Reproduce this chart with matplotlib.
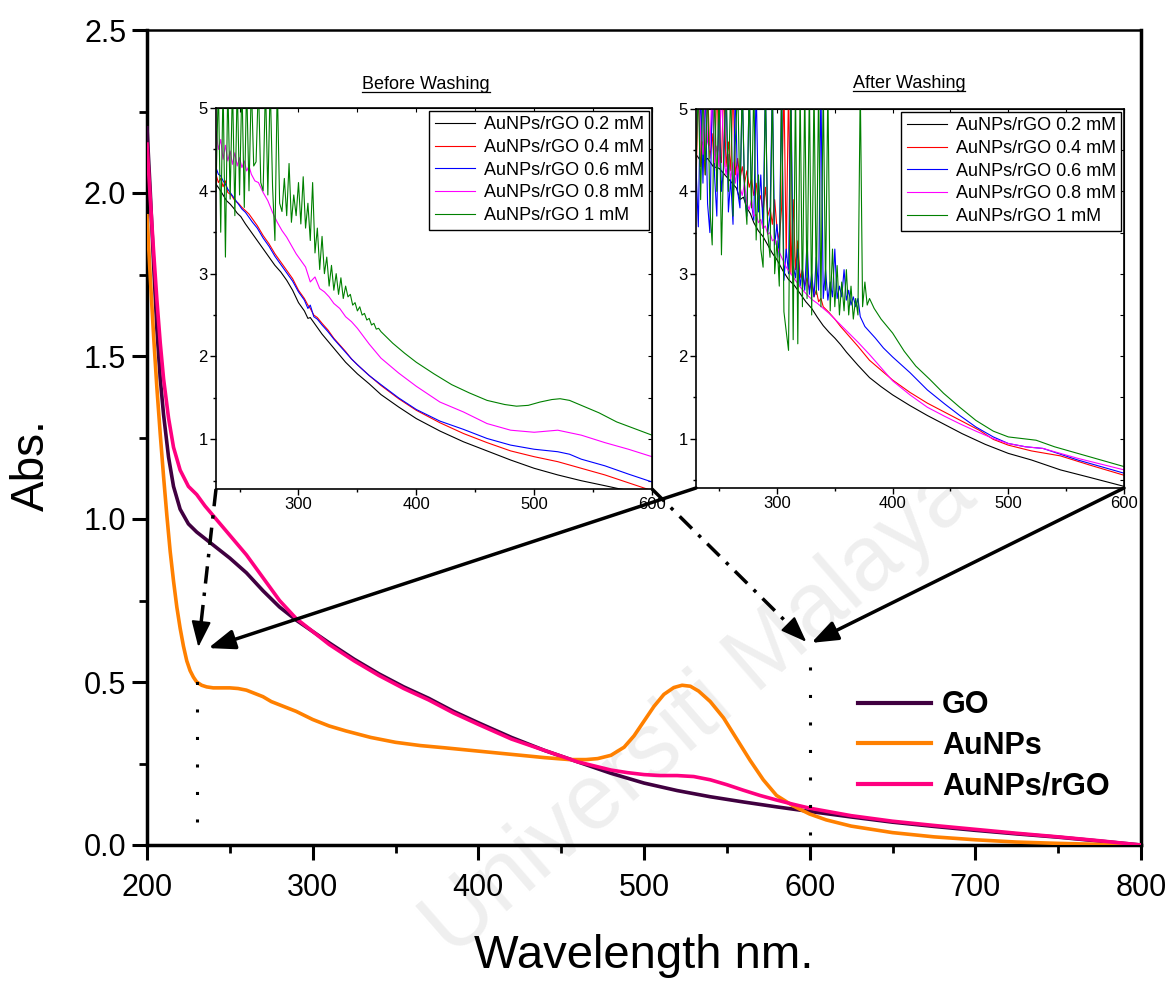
import numpy as np
import matplotlib
matplotlib.use('Agg')
import matplotlib.pyplot as plt
from matplotlib.lines import Line2D
from matplotlib.patches import FancyArrowPatch
from matplotlib.transforms import IdentityTransform
from matplotlib.ticker import MultipleLocator

plt.rcParams['font.family'] = ['Liberation Sans', 'DejaVu Sans']

# ---------------- main spectra ----------------
go_wl = [200, 202, 204, 206, 208, 210, 213, 216, 220, 225, 230, 235, 240, 250, 260, 270, 280, 290,
         300, 310, 325, 340, 355, 370, 385, 400, 420, 440, 460, 480, 500, 520, 540, 560, 580, 600,
         625, 650, 675, 700, 725, 750, 775, 800]
go_abs = [2.20, 2.00, 1.78, 1.58, 1.43, 1.32, 1.19, 1.10, 1.03, 0.985, 0.96, 0.94, 0.92, 0.88, 0.835,
          0.78, 0.73, 0.69, 0.655, 0.62, 0.57, 0.525, 0.485, 0.45, 0.41, 0.375, 0.33, 0.29, 0.255,
          0.22, 0.19, 0.167, 0.148, 0.132, 0.117, 0.103, 0.086, 0.07, 0.057, 0.045, 0.034, 0.024,
          0.012, 0.0]

au_wl = [200, 202, 204, 206, 208, 210, 212, 214, 216, 218, 220, 222, 224, 226, 228, 230, 233, 236,
         240, 245, 250, 255, 260, 265, 270, 275, 280, 290, 300, 310, 320, 335, 350, 365, 380, 400,
         420, 440, 455, 465, 472, 480, 488, 494, 500, 506, 512, 518, 523, 528, 533, 540, 548, 556,
         564, 572, 580, 590, 600, 610, 625, 650, 675, 700, 725, 750, 775, 800]
au_abs = [1.93, 1.74, 1.56, 1.40, 1.26, 1.13, 1.01, 0.90, 0.81, 0.73, 0.665, 0.61, 0.565, 0.535,
          0.515, 0.50, 0.49, 0.485, 0.482, 0.482, 0.482, 0.48, 0.475, 0.465, 0.455, 0.44, 0.43,
          0.41, 0.385, 0.365, 0.35, 0.33, 0.315, 0.305, 0.298, 0.288, 0.278, 0.268, 0.262, 0.262,
          0.265, 0.275, 0.30, 0.335, 0.38, 0.425, 0.462, 0.483, 0.49, 0.487, 0.472, 0.44, 0.39,
          0.325, 0.26, 0.20, 0.152, 0.12, 0.095, 0.077, 0.058, 0.038, 0.025, 0.016, 0.009, 0.005,
          0.002, 0.0]

aurgo_wl = [200, 202, 204, 206, 208, 210, 213, 216, 220, 225, 230, 235, 240, 250, 260, 270, 280,
            290, 300, 310, 325, 340, 355, 370, 385, 400, 420, 440, 460, 480, 490, 500, 510, 520,
            530, 540, 550, 560, 570, 580, 590, 600, 625, 650, 675, 700, 725, 750, 775, 800]
aurgo_abs = [2.15, 1.98, 1.82, 1.67, 1.54, 1.43, 1.31, 1.22, 1.15, 1.10, 1.075, 1.04, 1.01, 0.95,
             0.89, 0.82, 0.75, 0.695, 0.655, 0.615, 0.565, 0.52, 0.48, 0.445, 0.405, 0.37, 0.325,
             0.29, 0.255, 0.23, 0.222, 0.216, 0.213, 0.213, 0.21, 0.20, 0.185, 0.168, 0.152, 0.138,
             0.125, 0.113, 0.09, 0.073, 0.06, 0.048, 0.036, 0.025, 0.013, 0.0]

main_labels = ['GO', 'AuNPs', 'AuNPs/rGO']
main_colors = ['#400040', '#FF8000', '#FF0080']

# ---------------- inset labels ----------------
inset_labels = ['AuNPs/rGO 0.2 mM', 'AuNPs/rGO 0.4 mM', 'AuNPs/rGO 0.6 mM',
                'AuNPs/rGO 0.8 mM', 'AuNPs/rGO 1 mM']
inset_colors = ['black', 'red', 'blue', '#FF00FF', 'green']

# ---------------- Before washing ----------------
bw02_wl = [230, 233, 236, 239, 242, 245, 248, 251, 255, 260, 265, 270, 275, 280, 285, 290, 295, 300,
           305, 308, 310, 315, 320, 330, 340, 350, 360, 370, 385, 400, 420, 440, 460, 480, 500, 520,
           540, 560, 573, 580, 600]
bw02_v = [4.08, 4.02, 3.95, 3.88, 3.84, 3.79, 3.73, 3.69, 3.60, 3.50, 3.40, 3.30, 3.20, 3.10, 3.02,
          2.92, 2.80, 2.65, 2.55, 2.46, 2.47, 2.37, 2.27, 2.10, 1.93, 1.79, 1.67, 1.54, 1.39, 1.25,
          1.10, 0.97, 0.86, 0.75, 0.65, 0.57, 0.50, 0.44, 0.40, 0.385, 0.34]

bw04_wl = [230, 232, 234, 236, 238, 240, 243, 246, 249, 252, 255, 258, 261, 265, 270, 275, 280, 285,
           290, 295, 300, 305, 308, 310, 313, 316, 320, 325, 330, 335, 340, 345, 350, 360, 370, 385,
           400, 420, 440, 460, 480, 500, 520, 540, 560, 580, 600]
bw04_v = [4.20, 4.10, 4.15, 4.05, 4.12, 3.98, 3.95, 3.88, 3.85, 3.80, 3.76, 3.72, 3.66, 3.58, 3.46,
          3.36, 3.24, 3.14, 3.04, 2.94, 2.80, 2.70, 2.62, 2.58, 2.50, 2.47, 2.40, 2.32, 2.22, 2.14,
          2.06, 1.97, 1.90, 1.77, 1.65, 1.49, 1.35, 1.20, 1.07, 0.96, 0.86, 0.79, 0.73, 0.65, 0.57,
          0.475, 0.38]

bw06_wl = [230, 232, 234, 236, 238, 240, 243, 246, 249, 252, 255, 258, 261, 265, 270, 275, 280, 285,
           290, 295, 300, 305, 308, 310, 313, 316, 320, 325, 330, 335, 340, 345, 350, 360, 370, 385,
           400, 420, 440, 460, 480, 500, 520, 530, 540, 560, 580, 600]
bw06_v = [4.28, 4.20, 4.18, 4.12, 4.08, 4.02, 3.96, 3.90, 3.84, 3.78, 3.74, 3.68, 3.62, 3.55, 3.43,
          3.33, 3.21, 3.11, 3.01, 2.91, 2.78, 2.68, 2.58, 2.62, 2.48, 2.45, 2.38, 2.30, 2.21, 2.13,
          2.05, 1.97, 1.90, 1.77, 1.66, 1.50, 1.36, 1.22, 1.12, 1.01, 0.93, 0.88, 0.85, 0.82, 0.76,
          0.68, 0.58, 0.485]

bw08_wl = [230, 232, 234, 236, 238, 240, 242, 244, 246, 248, 250, 252, 254, 256, 258, 260, 263, 266,
           270, 274, 278, 282, 286, 290, 294, 298, 302, 306, 310, 314, 318, 322, 326, 330, 335, 340,
           345, 350, 360, 370, 385, 400, 420, 440, 460, 480, 500, 520, 540, 560, 580, 600]
bw08_v = [4.72, 4.50, 4.62, 4.38, 4.55, 4.36, 4.48, 4.32, 4.46, 4.30, 4.40, 4.28, 4.36, 4.24, 4.30,
          4.20, 4.12, 4.10, 3.98, 3.88, 3.74, 3.62, 3.52, 3.44, 3.34, 3.24, 3.16, 3.08, 2.90, 2.96,
          2.82, 2.78, 2.72, 2.64, 2.58, 2.48, 2.42, 2.34, 2.15, 1.98, 1.80, 1.64, 1.45, 1.33, 1.19,
          1.11, 1.085, 1.11, 1.05, 0.96, 0.88, 0.79]

bw1_wl = [230, 232, 234, 236, 238, 240, 242, 244, 246, 248, 250, 252, 254, 256, 258, 260, 262, 264,
          266, 268, 270, 272, 274, 276, 278, 280, 282, 284, 286, 288, 290, 292, 294, 296, 298, 300,
          302, 304, 306, 308, 310, 312, 314, 316, 318, 320, 322, 324, 326, 328, 330, 332, 334, 336,
          338, 340, 342, 344, 346, 348, 350, 352, 354, 356, 358, 360, 362, 364, 366, 368, 370,
          380, 390, 400, 415, 430, 445, 460, 475, 485, 495, 505, 515, 522, 530, 540, 555, 570, 585,
          600]
bw1_v = [4.00, 5.30, 3.50, 5.30, 3.20, 5.30, 3.90, 5.30, 3.70, 5.30, 3.95, 5.30, 3.80, 5.30, 4.00,
         5.30, 4.30, 4.35, 5.30, 4.10, 4.00, 5.30, 3.95, 5.30, 4.05, 3.40, 5.30, 3.85, 3.75, 4.15,
         3.70, 4.33, 3.62, 3.95, 3.70, 4.10, 3.60, 4.17, 3.55, 3.85, 3.40, 4.10, 3.25, 3.55, 3.05,
         3.45, 3.00, 3.20, 2.85, 3.10, 2.80, 3.00, 2.75, 2.95, 2.70, 2.85, 2.72, 2.75, 2.62, 2.65,
         2.55, 2.60, 2.50, 2.52, 2.44, 2.46, 2.38, 2.40, 2.33, 2.34, 2.30,
         2.16, 2.04, 1.93, 1.79, 1.66, 1.56, 1.47, 1.42, 1.40, 1.41, 1.45, 1.48, 1.49, 1.47, 1.41,
         1.32, 1.21, 1.13, 1.05]

# ---------------- After washing ----------------
aw02_wl = [230, 235, 240, 245, 250, 255, 260, 265, 268, 271, 274, 277, 280, 284, 288, 292, 296, 300,
           305, 310, 315, 320, 325, 330, 335, 340, 345, 350, 355, 360, 370, 380, 390, 400, 415, 430,
           445, 460, 480, 500, 520, 545, 570, 600]
aw02_v = [4.45, 4.35, 4.40, 4.30, 4.28, 4.20, 4.12, 4.04, 3.90, 3.93, 3.80, 3.73, 3.62, 3.52, 3.45,
          3.35, 3.25, 3.17, 3.04, 2.93, 2.86, 2.76, 2.66, 2.58, 2.47, 2.37, 2.29, 2.22, 2.14, 2.05,
          1.89, 1.74, 1.63, 1.53, 1.40, 1.28, 1.17, 1.06, 0.93, 0.82, 0.74, 0.62, 0.53, 0.42]

aw04_wl = [230, 232, 234, 236, 238, 240, 242, 244, 246, 248, 250, 252, 254, 256, 258, 260, 262, 264,
           266, 268, 270, 272, 274, 276, 278, 280, 282, 284, 286, 288, 290, 292, 294, 296, 298, 300,
           302, 304, 306, 308, 310, 312, 314, 316, 318, 320, 322, 324, 326, 328, 330, 332, 334, 336,
           338, 340, 345, 350, 355, 360, 365, 370, 380, 390, 400, 415, 430, 445, 460, 475, 487, 500,
           520, 545, 570, 600]
aw04_v = [4.05, 5.30, 4.30, 4.60, 4.20, 5.30, 4.40, 4.70, 4.25, 5.30, 4.50, 4.35, 5.30, 4.30, 4.60,
          4.25, 5.30, 4.20, 4.40, 4.15, 4.30, 4.10, 4.25, 4.05, 4.15, 3.95, 4.10, 3.85, 3.95, 3.75,
          4.05, 3.70, 3.80, 3.60, 3.90, 3.55, 3.40, 3.80, 5.30, 3.20, 5.30, 3.00, 3.90, 3.05, 3.40,
          2.95, 3.05, 2.85, 2.95, 2.80, 2.90, 2.72, 2.80, 2.66, 2.70, 2.60, 2.53, 2.45, 2.36, 2.28,
          2.20, 2.12, 1.95, 1.83, 1.71, 1.56, 1.43, 1.32, 1.21, 1.10, 0.99, 0.92, 0.85, 0.79, 0.68,
          0.555]

aw06_wl = [230, 232, 234, 236, 238, 240, 242, 244, 246, 248, 250, 252, 254, 256, 258, 260, 262, 264,
           266, 268, 270, 272, 274, 276, 278, 280, 282, 284, 286, 288, 290, 292, 294, 296, 298, 300,
           302, 304, 306, 308, 310, 312, 314, 316, 318, 320, 322, 324, 326, 328, 330, 332, 334, 336,
           338, 340, 342, 344, 346, 348, 350, 352, 354, 356, 358, 360, 362, 364, 366, 368, 370, 372,
           376, 385, 392, 400, 415, 430, 445, 458, 472, 487, 500, 515, 530, 545, 560, 580, 600]
aw06_v = [4.30, 3.57, 5.30, 4.10, 5.30, 3.85, 3.50, 5.30, 4.20, 3.70, 5.30, 4.00, 4.30, 5.30, 3.75,
          4.15, 3.60, 5.30, 4.00, 3.80, 5.30, 3.95, 3.70, 5.30, 3.85, 3.65, 5.30, 3.75, 4.20, 3.55,
          5.30, 3.50, 3.70, 5.30, 3.35, 3.60, 3.20, 5.30, 2.92, 3.30, 3.00, 5.30, 3.10, 2.95, 3.30,
          2.85, 3.05, 2.80, 3.40, 2.75, 3.00, 2.72, 3.20, 2.80, 5.30, 2.70, 3.05, 2.68, 2.90, 2.72,
          3.30, 2.70, 2.85, 2.72, 3.05, 2.68, 2.80, 2.62, 2.72, 2.60, 2.70, 2.48,
          2.36, 2.22, 2.10, 1.99, 1.80, 1.59, 1.42, 1.28, 1.14, 1.02, 0.94, 0.90, 0.88, 0.81, 0.74,
          0.66, 0.58]

aw08_wl = [230, 232, 234, 236, 238, 240, 242, 244, 246, 248, 250, 252, 254, 256, 258, 260, 262, 264,
           266, 268, 270, 272, 274, 276, 278, 280, 282, 284, 286, 288, 290, 292, 294, 296, 298, 300,
           304, 308, 312, 316, 320, 325, 330, 335, 340, 345, 350, 355, 360, 365, 370, 380, 390, 400,
           415, 430, 445, 458, 472, 487, 500, 515, 530, 545, 560, 580, 600]
aw08_v = [4.50, 5.30, 4.70, 4.45, 5.30, 4.60, 4.50, 5.30, 4.35, 4.55, 4.30, 5.30, 4.40, 4.20, 4.45,
          4.15, 4.35, 4.10, 4.30, 4.05, 3.95, 4.10, 3.85, 3.78, 3.90, 3.70, 3.72, 3.62, 3.66, 3.55,
          3.58, 3.48, 3.50, 3.40, 3.42, 3.33, 3.20, 3.08, 3.00, 2.92, 2.84, 2.76, 2.69, 2.64, 2.58,
          2.52, 2.45, 2.38, 2.31, 2.24, 2.17, 2.02, 1.86, 1.70, 1.53, 1.38, 1.27, 1.18, 1.09, 1.00,
          0.94, 0.90, 0.88, 0.82, 0.76, 0.69, 0.62]

aw1_wl = [230, 232, 234, 236, 238, 240, 242, 244, 246, 248, 250, 252, 254, 256, 258, 260, 262, 264,
          266, 268, 270, 272, 274, 276, 278, 280, 282, 284, 286, 288, 290, 292, 294, 296, 298, 300,
          302, 304, 306, 308, 310, 312, 314, 316, 318, 320, 322, 324, 326, 328, 330, 332, 334, 336,
          338, 340, 342, 344, 346, 348, 350, 352, 354, 356, 358, 360, 362, 364, 366, 368, 370, 372,
          374, 376, 378, 380, 384, 390, 400, 410, 420, 432, 444, 458, 472, 487, 500, 512, 524, 540,
          560, 580, 600]
aw1_v = [4.30, 5.30, 3.90, 5.30, 4.20, 5.30, 3.80, 3.35, 5.30, 4.00, 5.30, 3.23, 4.50, 5.30, 4.00,
         5.30, 3.70, 4.60, 5.30, 3.90, 5.30, 4.00, 3.60, 5.30, 3.80, 5.30, 3.41, 4.20, 3.30, 3.08,
         5.30, 3.50, 3.20, 5.30, 3.00, 3.40, 2.85, 5.30, 2.54, 2.30, 2.07, 5.30, 2.20, 5.30, 2.15,
         5.30, 2.60, 5.30, 2.70, 5.30, 2.50, 5.30, 2.75, 5.30, 2.60, 5.30, 2.80, 5.30, 2.55, 3.30,
         2.60, 3.10, 2.50, 2.90, 2.55, 3.05, 2.50, 2.85, 2.45, 2.70, 2.50, 5.30,
         2.60, 2.90, 2.62, 2.70, 2.58, 2.45, 2.28, 2.06, 1.88, 1.72, 1.55, 1.38, 1.22, 1.09, 1.02,
         1.00, 0.98, 0.90, 0.82, 0.74, 0.66]

bw_series = [(bw02_wl, bw02_v), (bw04_wl, bw04_v), (bw06_wl, bw06_v), (bw08_wl, bw08_v), (bw1_wl, bw1_v)]
aw_series = [(aw02_wl, aw02_v), (aw04_wl, aw04_v), (aw06_wl, aw06_v), (aw08_wl, aw08_v), (aw1_wl, aw1_v)]

W, H = 1173, 981
fig = plt.figure(figsize=(W / 100, H / 100), dpi=100)

# watermark (kept fully inside the figure)
fig.text(700 / W, 1 - 712 / H, 'Universiti Malaya', rotation=41, color='#efefef',
         fontsize=66, ha='center', va='center', zorder=-5)

ax = fig.add_axes([147 / W, 1 - 845 / H, 994 / W, 815 / H])
ax.set_facecolor('none')
ax.plot(go_wl, go_abs, color=main_colors[0], lw=2.6, label=main_labels[0], zorder=3)
ax.plot(au_wl, au_abs, color=main_colors[1], lw=2.6, label=main_labels[1], zorder=3)
ax.plot(aurgo_wl, aurgo_abs, color=main_colors[2], lw=2.6, label=main_labels[2], zorder=3)
ax.set_xlim(200, 800)
ax.set_ylim(0, 2.5)
ax.xaxis.set_major_locator(MultipleLocator(100))
ax.xaxis.set_minor_locator(MultipleLocator(50))
ax.yaxis.set_major_locator(MultipleLocator(0.5))
ax.yaxis.set_minor_locator(MultipleLocator(0.25))
ax.yaxis.set_major_formatter(matplotlib.ticker.FormatStrFormatter('%.1f'))
ax.tick_params(which='major', direction='out', length=11, width=2.2, labelsize=22)
ax.tick_params(which='minor', direction='out', length=6, width=2.0)
ax.tick_params(axis='x', which='major', pad=9)
ax.tick_params(axis='y', which='major', pad=4)
for s in ['left', 'bottom', 'right']:
    ax.spines[s].set_linewidth(2.5)
ax.spines['top'].set_linewidth(1.8)
ax.set_xlabel('Wavelength nm.', fontsize=34)
ax.set_ylabel('Abs.', fontsize=33)
ax.xaxis.set_label_coords(0.5, (845 - 934) / 815)
ax.yaxis.set_label_coords((54 - 147) / 994, (845 - 465) / 815)

leg = ax.legend(loc='center left', bbox_to_anchor=(858 / W, 1 - 746 / H), bbox_transform=fig.transFigure,
                frameon=False, prop={'weight': 'bold', 'size': 22}, handlelength=2.4,
                handletextpad=0.35, labelspacing=0.35, borderpad=0, borderaxespad=0)
for l in leg.get_lines():
    l.set_linewidth(3)

# dotted guides
ax.plot([230, 230], [0.07, 0.57], ls=(0, (1, 8)), lw=2.2, color='k', zorder=4)
ax.plot([600, 600], [0.03, 0.57], ls=(0, (1, 8)), lw=2.2, color='k', zorder=4)


def make_inset(rect_px, series, title, tx, ty):
    l, r, t, b = rect_px
    a = fig.add_axes([l / W, 1 - b / H, (r - l) / W, (b - t) / H])
    a.set_facecolor('white')
    a.set_zorder(5)
    for (wl, v), c, lab in zip(series, inset_colors, inset_labels):
        a.plot(wl, v, color=c, lw=0.8, label=lab)
    a.set_xlim(230, 600)
    a.set_ylim(0.4, 5)
    a.xaxis.set_major_locator(MultipleLocator(100))
    a.xaxis.set_minor_locator(MultipleLocator(50))
    a.yaxis.set_major_locator(MultipleLocator(1))
    a.yaxis.set_minor_locator(MultipleLocator(0.5))
    a.tick_params(which='major', direction='out', length=4, width=1, labelsize=12, pad=2)
    a.tick_params(which='minor', direction='out', length=2.5, width=1)
    for s in a.spines.values():
        s.set_linewidth(1.2)
    top = a.secondary_xaxis('top')
    top.xaxis.set_major_locator(MultipleLocator(100))
    top.xaxis.set_minor_locator(MultipleLocator(50))
    top.tick_params(which='both', direction='in', length=3, width=0.8, labeltop=False)
    right = a.secondary_yaxis('right')
    right.yaxis.set_major_locator(MultipleLocator(1))
    right.yaxis.set_minor_locator(MultipleLocator(0.5))
    right.tick_params(which='both', direction='in', length=3, width=0.8, labelright=False)
    lg = a.legend(loc='upper right', fontsize=13, frameon=True, fancybox=False, edgecolor='black',
                  framealpha=1, borderpad=0.3, labelspacing=0.32, handlelength=2.2,
                  handletextpad=0.5, borderaxespad=0.15)
    lg.get_frame().set_linewidth(1.0)
    txt = fig.text(tx / W, 1 - ty / H, title, fontsize=13, ha='center', va='baseline')
    return a, txt


ax1, t1 = make_inset((216, 652, 108, 489), bw_series, 'Before Washing', 426, 89)
ax2, t2 = make_inset((696, 1124, 109, 488), aw_series, 'After Washing', 909, 88)

# underline titles
fig.canvas.draw()
rend = fig.canvas.get_renderer()
for t, ty in ((t1, 89), (t2, 88)):
    bb = t.get_window_extent(rend)
    yline = H - (ty + 2.5)
    fig.add_artist(Line2D([bb.x0, bb.x1], [yline, yline], transform=IdentityTransform(),
                          color='black', lw=0.9))


def px(axis, pt, data=True):
    if data:
        return axis.transData.transform(pt)
    return axis.transAxes.transform(pt)


def draw_arrow(start, tip, dashed):
    start = np.asarray(start, float)
    tip = np.asarray(tip, float)
    u = (tip - start) / np.hypot(*(tip - start))
    head_len = 22.0
    style = '-|>,head_length=0.8,head_width=0.3'
    if dashed:
        mid = tip - u * (head_len - 2)
        fig.add_artist(Line2D([start[0], mid[0]], [start[1], mid[1]], transform=IdentityTransform(),
                              color='black', lw=2.5, ls=(0, (5, 2.6, 1, 2.6)), zorder=10))
        hs = tip - u * (head_len + 2)
        fig.add_artist(FancyArrowPatch(hs, tip, transform=IdentityTransform(), arrowstyle=style,
                                       mutation_scale=20, color='black', lw=1.5, shrinkA=0,
                                       shrinkB=0, zorder=11))
    else:
        fig.add_artist(FancyArrowPatch(start, tip, transform=IdentityTransform(), arrowstyle=style,
                                       mutation_scale=20, color='black', lw=2.5, shrinkA=0,
                                       shrinkB=0, zorder=10))


draw_arrow(px(ax1, (0, 0), False), px(ax, (231, 0.607)), True)
draw_arrow(px(ax1, (1, 0), False), px(ax, (598, 0.623)), True)
draw_arrow(px(ax2, (0, 0), False), px(ax, (237, 0.604)), False)
draw_arrow(px(ax2, (1, 0), False), px(ax, (601, 0.62)), False)

fig.savefig('out.png', dpi=100)
